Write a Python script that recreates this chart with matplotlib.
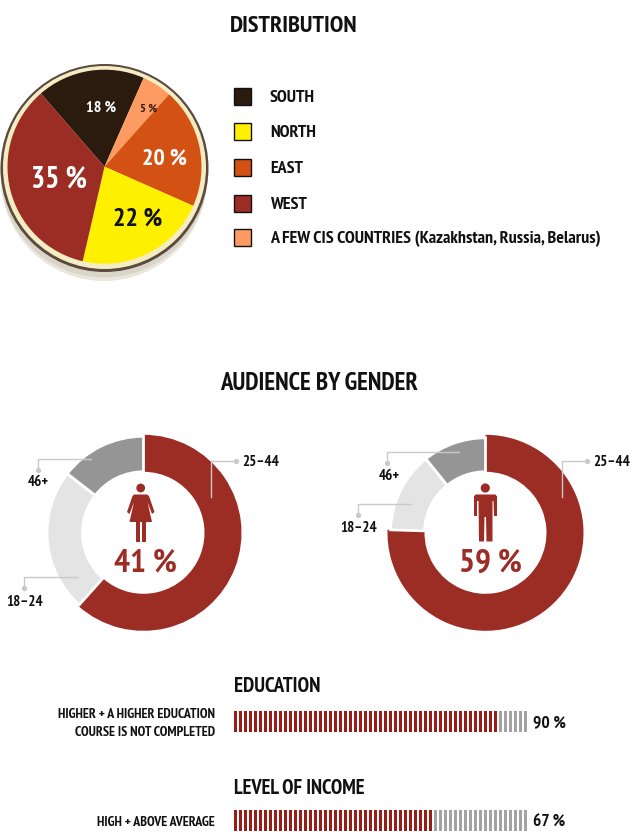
import matplotlib
matplotlib.use("Agg")
import matplotlib.pyplot as plt
from matplotlib.patches import Circle, Polygon, Rectangle, FancyBboxPatch

plt.rcParams["font.family"] = ["PT Sans Narrow", "Liberation Sans", "DejaVu Sans"]

# Regional distribution
regions = ["SOUTH", "NORTH", "EAST", "WEST",
           "A FEW CIS COUNTRIES (Kazakhstan, Russia, Belarus)"]
region_values = [18, 22, 20, 35, 5]
region_colors = ["#2b1a0e", "#fff000", "#d35213", "#9c2d25", "#fd9b62"]
# Clockwise drawing order round the pie: south, CIS, east, north, west
pie_order = [0, 4, 2, 1, 3]

# Audience by gender: shares of each age group
age_groups = ["25\u201344", "18\u201324", "46+"]
female_ages = [61.6, 23.9, 14.5]
male_ages = [75.5, 13.7, 10.8]
female_share = 41
male_share = 59
age_colors = ["#9c2d25", "#e4e4e4", "#959595"]

# Tick-bar indicators
education_value = 90
income_value = 67
tick_count = 59

W, H = 640, 836
fig = plt.figure(figsize=(W / 100, H / 100), dpi=100, facecolor="white")

def axes_box(x0, y0, x1, y1, **kw):
    # Axes placed by pixel box measured from the top-left corner
    return fig.add_axes([x0 / W, 1 - y1 / H, (x1 - x0) / W, (y1 - y0) / H], **kw)

page = axes_box(0, 0, W, H, zorder=5)
page.set_xlim(0, W)
page.set_ylim(H, 0)
page.axis("off")
page.patch.set_alpha(0)

under = axes_box(0, 0, W, H, zorder=0)
under.set_xlim(0, W)
under.set_ylim(H, 0)
under.axis("off")

def label(x, y, s, size, color="#111111", ha="center", weight="bold"):
    page.text(x, y, s, fontsize=size, color=color, ha=ha, va="center_baseline", fontweight=weight)

# Disc base under the regional pie: soft shadow, dark rim, cream ring
under.add_patch(Circle((104, 178), 103, color="#e9e6dd", lw=0))
under.add_patch(Circle((104, 174), 103.5, color="#d9d5c9", lw=0))
under.add_patch(Circle((104.5, 168), 104, color="#5b4a3d", lw=0))
under.add_patch(Circle((104.5, 167.5), 101.5, color="#f4edc4", lw=0))

def pie_axes(cx, cy, r):
    ax = axes_box(cx - r, cy - r, cx + r, cy + r, zorder=2)
    ax.patch.set_alpha(0)
    return ax

ax = pie_axes(104.5, 166.7, 97)
ax.pie([region_values[i] for i in pie_order],
       colors=[region_colors[i] for i in pie_order],
       startangle=131, counterclock=False, radius=1,
       wedgeprops={"linewidth": 0})
ax.set_xlim(-1, 1)
ax.set_ylim(-1, 1)

label(294, 24, "DISTRIBUTION", 17.6)
label(101, 106, f"{region_values[0]} %", 11.5, "white")
label(149, 107.5, f"{region_values[4]} %", 8.8, "#2b1a0e")
label(165, 157, f"{region_values[2]} %", 17.2, "white")
label(138, 217, f"{region_values[1]} %", 18.8, "#111111")
label(59, 177, f"{region_values[3]} %", 21.5, "white")

# Legend
legend_y = [96, 131, 167, 203, 237]
for name, y, swatch in zip(regions, legend_y, region_colors):
    page.add_patch(Rectangle((234, y - 8.5), 17, 17, facecolor=swatch,
                             edgecolor="#111111", lw=1.0))
    label(270, y, name, 13, ha="left")

label(319, 381, "AUDIENCE BY GENDER", 17.9)

def donut(cx, cy, values, gray_r):
    # Red segment sits at full radius; the two grey segments are slightly smaller
    ax = pie_axes(cx, cy, 98)
    red_end = 90 - values[0] * 3.6
    red, _ = ax.pie([values[0], 100 - values[0]], colors=[age_colors[0], "white"],
                    startangle=90, counterclock=False, radius=1,
                    wedgeprops={"width": 37 / 98, "linewidth": 0})
    red[1].set_visible(False)
    gray, _ = ax.pie(values[1:] + [values[0]], colors=age_colors[1:] + ["white"],
                     startangle=red_end, counterclock=False, radius=gray_r / 98,
                     wedgeprops={"width": (gray_r - 61) / 98, "linewidth": 2.0,
                                 "edgecolor": "white"})
    gray[2].set_visible(False)
    ax.set_xlim(-1, 1)
    ax.set_ylim(-1, 1)

CY = 532.8
donut(143.5, CY, female_ages, 96.5)
donut(485.5, CY, male_ages, 95)

def leader(points, text_xy, text, ha="center"):
    xs, ys = zip(*points)
    page.plot(xs, ys, color="#c9c9c9", lw=1.0, solid_joinstyle="miter")
    page.plot(xs[-1], ys[-1], "o", color="#c9c9c9", ms=3.8, mew=0)
    label(text_xy[0], text_xy[1], text, 10.8, ha=ha)

leader([(211, 497), (211, 461), (236, 461)], (242, 461), age_groups[0], "left")
leader([(90.7, 458.7), (38.3, 458.7), (38.3, 470)], (38, 481), age_groups[2])
leader([(76.7, 576.7), (24.3, 576.7), (24.3, 587.7)], (25, 600), age_groups[1])
leader([(561.7, 496.7), (561.7, 460.7), (586.7, 460.7)], (593, 461), age_groups[0], "left")
leader([(459.3, 452), (387.3, 452), (387.3, 462.7)], (389, 475), age_groups[2])
leader([(411, 504), (358.3, 504), (358.3, 515)], (359, 527), age_groups[1])

RED = "#9c2d25"
# Female pictogram
page.add_patch(Circle((140.7, 488), 4.4, color=RED, lw=0))
page.add_patch(Polygon([(134, 494.5), (147, 494.5), (149, 496), (154.5, 512), (152, 514),
                       (147.5, 502), (152, 522), (129.5, 522), (134, 502), (129.5, 514),
                       (127, 512), (132.5, 496)], closed=True, color=RED, lw=0))
page.add_patch(Rectangle((136, 521), 4.2, 20.5, color=RED, lw=0))
page.add_patch(Rectangle((141.5, 521), 4.2, 20.5, color=RED, lw=0))
# Male pictogram
page.add_patch(Circle((485.3, 488), 4.6, color=RED, lw=0))
page.add_patch(FancyBboxPatch((474.5, 494.5), 22, 2, boxstyle="round,pad=0,rounding_size=1.5",
                              color=RED, lw=0))
page.add_patch(Polygon([(474, 496), (497, 496), (497, 516), (494, 516), (493.5, 501),
                       (492.5, 501), (492.5, 541.5), (486.5, 541.5), (486, 517), (484.5, 517),
                       (484, 541.5), (479, 541.5), (478.5, 501), (477, 501), (477, 516),
                       (474, 516)], closed=True, color=RED, lw=0))

label(145, 560, f"{female_share} %", 24, RED)
label(490, 560, f"{male_share} %", 24, RED)

def tick_bar(y0, y1, value):
    # One thin vertical bar per tick; the filled share of ticks is red
    ax = axes_box(234, y0, 527, y1, zorder=2)
    red = round(value / 100 * tick_count)
    positions = list(range(tick_count))
    colors = ["#9a1c16"] * red + ["#a3a3a3"] * (tick_count - red)
    ax.bar(positions, [1] * tick_count, width=0.6, color=colors, linewidth=0)
    ax.set_xlim(-0.3, tick_count - 0.7)
    ax.set_ylim(0, 1)
    ax.axis("off")

label(234, 685, "EDUCATION", 15, ha="left")
tick_bar(711, 732, education_value)
label(215, 713, "HIGHER + A HIGHER EDUCATION", 10, ha="right")
label(215, 731, "COURSE IS NOT COMPLETED", 10, ha="right")
label(533, 721, f"{education_value} %", 12.5, ha="left")

label(234, 786, "LEVEL OF INCOME", 14.8, ha="left")
tick_bar(810, 831, income_value)
label(215, 821, "HIGH + ABOVE AVERAGE", 10, ha="right")
label(533, 821, f"{income_value} %", 12.5, ha="left")

fig.savefig("out.png", dpi=100, facecolor="white")
